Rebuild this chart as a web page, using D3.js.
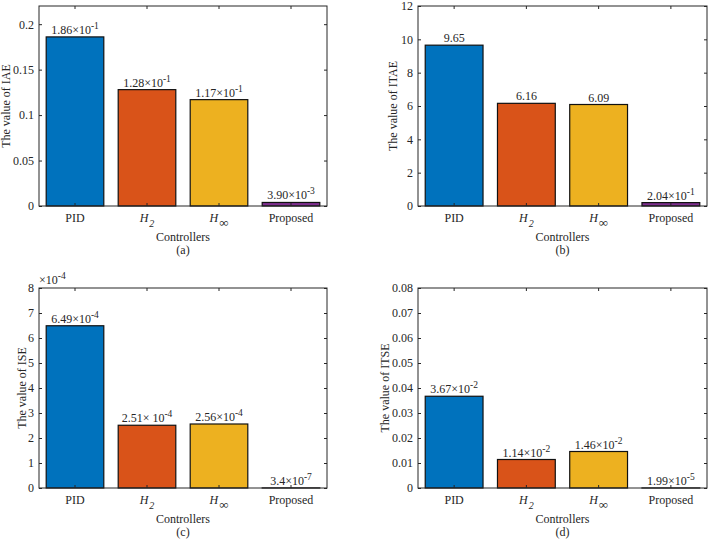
<!DOCTYPE html>
<html>
<head>
<meta charset="utf-8">
<script src="https://cdn.jsdelivr.net/npm/d3@7"></script>
<style>
  html, body { margin: 0; padding: 0; background: #fff; }
  svg { display: block; }
  text { font-family: "Liberation Serif", "Times New Roman", serif; fill: #262626; }
</style>
</head>
<body>
<svg id="chart" width="708" height="540"></svg>
<script>
// ---------- data ----------
const categories = ["PID", "H2", "Hinf", "Proposed"];
const barColors = ["#0072BD", "#D95319", "#EDB120", "#7E2F8E"];

const iaeValues  = [0.186, 0.128, 0.117, 0.0039];
const iaeLabels  = [["1.86×10", "-1"], ["1.28×10", "-1"], ["1.17×10", "-1"], ["3.90×10", "-3"]];
const iaeTicks   = [0, 0.05, 0.1, 0.15, 0.2];
const iaeTickLabels = ["0", "0.05", "0.1", "0.15", "0.2"];

const itaeValues = [9.65, 6.16, 6.09, 0.204];
const itaeLabels = [["9.65", ""], ["6.16", ""], ["6.09", ""], ["2.04×10", "-1"]];
const itaeTicks  = [0, 2, 4, 6, 8, 10, 12];
const itaeTickLabels = ["0", "2", "4", "6", "8", "10", "12"];

const iseValues  = [6.49e-4, 2.51e-4, 2.56e-4, 3.4e-7];
const iseLabels  = [["6.49×10", "-4"], ["2.51× 10", "-4"], ["2.56×10", "-4"], ["3.4×10", "-7"]];
const iseTicks   = [0, 1e-4, 2e-4, 3e-4, 4e-4, 5e-4, 6e-4, 7e-4, 8e-4];
const iseTickLabels = ["0", "1", "2", "3", "4", "5", "6", "7", "8"];

const itseValues = [3.67e-2, 1.14e-2, 1.46e-2, 1.99e-5];
const itseLabels = [["3.67×10", "-2"], ["1.14×10", "-2"], ["1.46×10", "-2"], ["1.99×10", "-5"]];
const itseTicks  = [0, 0.01, 0.02, 0.03, 0.04, 0.05, 0.06, 0.07, 0.08];
const itseTickLabels = ["0", "0.01", "0.02", "0.03", "0.04", "0.05", "0.06", "0.07", "0.08"];

// ---------- drawing ----------
const svg = d3.select("#chart");
const axisColor = "#262626";
const FS = 12;
const FF = '"Liberation Serif", "Times New Roman", serif';

function catLabel(sel, c) {
  if (c === "H2" || c === "Hinf") {
    sel.append("tspan").attr("font-style", "italic").text("H");
    sel.append("tspan").attr("dy", 5).attr("dx", 1)
      .attr("font-size", c === "H2" ? 10 : 13)
      .attr("font-style", c === "H2" ? "italic" : "normal")
      .text(c === "H2" ? "2" : "∞");
  } else {
    sel.text(c);
  }
}

function drawPanel(p) {
  const g = svg.append("g").attr("font-family", FF);
  const x = d3.scaleBand().domain(categories).range([p.left, p.right]).paddingInner(0.2).paddingOuter(0.1);
  const y = d3.scaleLinear().domain([0, p.ymax]).range([p.bottom, p.top]);

  // bars
  g.selectAll("rect.bar").data(p.values).enter().append("rect")
    .attr("x", (d, i) => x(categories[i]))
    .attr("width", x.bandwidth())
    .attr("y", d => y(d))
    .attr("height", d => y(0) - y(d))
    .attr("fill", (d, i) => barColors[i])
    .attr("stroke", "#111").attr("stroke-width", 1.2);

  // value labels
  p.values.forEach((v, i) => {
    const t = g.append("text")
      .attr("x", x(categories[i]) + x.bandwidth() / 2)
      .attr("y", y(v) - 3)
      .attr("text-anchor", "middle")
      .attr("font-size", FS);
    t.append("tspan").text(p.labels[i][0]);
    if (p.labels[i][1]) {
      t.append("tspan").attr("dy", -5).attr("font-size", 9.5).text(p.labels[i][1]);
    }
  });

  // box
  g.append("rect").attr("x", p.left).attr("y", p.top)
    .attr("width", p.right - p.left).attr("height", p.bottom - p.top)
    .attr("fill", "none").attr("stroke", axisColor).attr("stroke-width", 1);

  const tl = 3;
  // y axis ticks left & right
  const yAxisL = d3.axisLeft(y).tickValues(p.ticks).tickSizeInner(-tl).tickSizeOuter(0).tickPadding(5)
    .tickFormat((d, i) => p.tickLabels[i]);
  const ya = g.append("g").attr("transform", `translate(${p.left},0)`).call(yAxisL);
  ya.attr("font-family", FF).attr("font-size", FS);
  ya.select(".domain").remove();
  ya.selectAll("line").attr("stroke", axisColor);
  ya.selectAll("text").attr("fill", axisColor);

  const yAxisR = d3.axisRight(y).tickValues(p.ticks).tickSizeInner(-tl).tickSizeOuter(0).tickFormat("");
  const yr = g.append("g").attr("transform", `translate(${p.right},0)`).call(yAxisR);
  yr.select(".domain").remove();
  yr.selectAll("line").attr("stroke", axisColor);

  // x axis ticks bottom & top
  const xAxisB = d3.axisBottom(x).tickSizeInner(-tl).tickSizeOuter(0).tickFormat("");
  const xb = g.append("g").attr("transform", `translate(0,${p.bottom})`).call(xAxisB);
  xb.attr("font-family", FF).attr("font-size", FS);
  xb.select(".domain").remove();
  xb.selectAll("line").attr("stroke", axisColor);
  xb.selectAll(".tick").each(function(c) {
    const t = d3.select(this).select("text")
      .attr("y", 16).attr("dy", 0)
      .attr("fill", axisColor);
    t.text(null);
    catLabel(t, c);
  });

  const xAxisT = d3.axisTop(x).tickSizeInner(-tl).tickSizeOuter(0).tickFormat("");
  const xt = g.append("g").attr("transform", `translate(0,${p.top})`).call(xAxisT);
  xt.select(".domain").remove();
  xt.selectAll("line").attr("stroke", axisColor);

  // exponent
  if (p.exponent) {
    const e = g.append("text").attr("x", p.left).attr("y", p.top - 4).attr("font-size", FS);
    e.append("tspan").text("×10");
    e.append("tspan").attr("dy", -5).attr("font-size", 9.5).text(p.exponent);
  }

  const midX = (p.left + p.right) / 2;
  g.append("text").attr("x", midX).attr("y", p.bottom + 35)
    .attr("text-anchor", "middle").attr("font-size", FS).text("Controllers");
  g.append("text").attr("x", midX).attr("y", p.bottom + 48)
    .attr("text-anchor", "middle").attr("font-size", FS).text(p.caption);

  g.append("text")
    .attr("transform", `translate(${p.ylabelX},${(p.top + p.bottom) / 2}) rotate(-90)`)
    .attr("text-anchor", "middle").attr("dy", "0.3em")
    .attr("font-size", FS).text(p.ylabel);
}

drawPanel({ left: 39, right: 327, top: 6, bottom: 206, ymax: 0.22,
  values: iaeValues, labels: iaeLabels, ticks: iaeTicks, tickLabels: iaeTickLabels,
  ylabel: "The value of IAE", ylabelX: 6, caption: "(a)" });
drawPanel({ left: 418, right: 707, top: 6, bottom: 206, ymax: 12,
  values: itaeValues, labels: itaeLabels, ticks: itaeTicks, tickLabels: itaeTickLabels,
  ylabel: "The value of ITAE", ylabelX: 393, caption: "(b)" });
drawPanel({ left: 39, right: 327, top: 288, bottom: 488, ymax: 8e-4,
  values: iseValues, labels: iseLabels, ticks: iseTicks, tickLabels: iseTickLabels,
  ylabel: "The value of ISE", ylabelX: 22, caption: "(c)", exponent: "-4" });
drawPanel({ left: 418, right: 707, top: 288, bottom: 488, ymax: 0.08,
  values: itseValues, labels: itseLabels, ticks: itseTicks, tickLabels: itseTickLabels,
  ylabel: "The value of ITSE", ylabelX: 385, caption: "(d)" });
</script>
</body>
</html>
